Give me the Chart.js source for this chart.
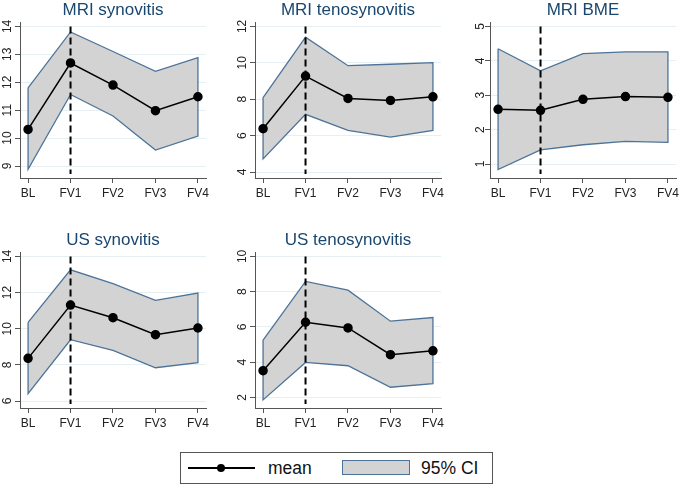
<!DOCTYPE html>
<html>
<head>
<meta charset="utf-8">
<script src="https://cdn.jsdelivr.net/npm/chart.js@4.4.1/dist/chart.umd.min.js"></script>
<style>
  html,body{margin:0;padding:0;background:#fff;width:685px;height:486px;overflow:hidden;
    font-family:"Liberation Sans",Arial,sans-serif;}
  canvas{position:absolute;}
  #legend{position:absolute;left:180px;top:452px;width:311px;height:30px;border:1px solid #555;}
  #legend span{position:absolute;display:block;}
  #legend .ln{left:7px;top:14px;width:67px;height:1.5px;background:#000;}
  #legend .dot{left:36px;top:11px;width:8px;height:8px;border-radius:50%;background:#000;}
  #legend .tx{top:5px;font-size:17.5px;line-height:20px;color:#111;}
  #legend .box{left:161px;top:7px;width:68px;height:15px;box-sizing:border-box;
    background:#d3d3d3;border:1.5px solid #4d7399;}
</style>
</head>
<body>
<canvas id="c0" width="215" height="206" style="left:0;top:0"></canvas>
<canvas id="c1" width="215" height="206" style="left:235px;top:0"></canvas>
<canvas id="c2" width="215" height="206" style="left:470px;top:0"></canvas>
<canvas id="c3" width="215" height="206" style="left:0;top:230px"></canvas>
<canvas id="c4" width="215" height="206" style="left:235px;top:230px"></canvas>
<div id="legend">
  <span class="ln"></span><span class="dot"></span>
  <span class="tx" style="left:87px">mean</span>
  <span class="box"></span>
  <span class="tx" style="left:240px">95% CI</span>
</div>
<script>
// 資料
const visits = ['BL','FV1','FV2','FV3','FV4'];
const refVisit = 'FV1';

const mriSynMean = [10.31, 12.69, 11.90, 10.98, 11.48];
const mriSynLo   = [ 8.88, 11.56, 10.79,  9.57, 10.07];
const mriSynHi   = [11.80, 13.80, 13.10, 12.39, 12.88];
const mriSynTicks = [9,10,11,12,13,14];

const mriTenMean = [6.38, 9.27, 8.04, 7.93, 8.13];
const mriTenLo   = [4.72, 7.17, 6.29, 5.92, 6.29];
const mriTenHi   = [8.09, 11.41, 9.84, 9.92, 10.01];
const mriTenTicks = [4,6,8,10,12];

const mriBmeMean = [2.59, 2.56, 2.88, 2.96, 2.94];
const mriBmeLo   = [0.84, 1.41, 1.56, 1.66, 1.63];
const mriBmeHi   = [4.35, 3.71, 4.21, 4.26, 4.26];
const mriBmeTicks = [1,2,3,4,5];

const usSynMean = [8.36, 11.31, 10.61, 9.67, 10.04];
const usSynLo   = [6.41, 9.39, 8.80, 7.84, 8.12];
const usSynHi   = [10.35, 13.26, 12.49, 11.57, 11.97];
const usSynTicks = [6,8,10,12,14];

const usTenMean = [3.51, 6.26, 5.94, 4.42, 4.64];
const usTenLo   = [1.85, 3.98, 3.79, 2.57, 2.77];
const usTenHi   = [5.25, 8.58, 8.08, 6.32, 6.53];
const usTenTicks = [2,4,6,8,10];

const panels = [
  {id:'c0', title:'MRI synovitis',     mean:mriSynMean, lo:mriSynLo, hi:mriSynHi, ticks:mriSynTicks, yMin:8.571, yMax:14.143},
  {id:'c1', title:'MRI tenosynovitis', mean:mriTenMean, lo:mriTenLo, hi:mriTenHi, ticks:mriTenTicks, yMin:3.671, yMax:12.219},
  {id:'c2', title:'MRI BME',           mean:mriBmeMean, lo:mriBmeLo, hi:mriBmeHi, ticks:mriBmeTicks, yMin:0.594, yMax:5.116},
  {id:'c3', title:'US synovitis',      mean:usSynMean,  lo:usSynLo,  hi:usSynHi,  ticks:usSynTicks,  yMin:5.614, yMax:14.221},
  {id:'c4', title:'US tenosynovitis',  mean:usTenMean,  lo:usTenLo,  hi:usTenHi,  ticks:usTenTicks,  yMin:1.392, yMax:10.226},
];

const FONT = '"Liberation Sans", Arial, sans-serif';
const AXIS = '#555';

// 參考線（FV1 虛線），畫在色帶之後、平均線之前
const refLine = {
  id:'refLine',
  beforeDatasetDraw(chart, args){
    if(args.index!==0) return;
    const x = chart.scales.x.getPixelForValue(visits.indexOf(refVisit));
    const {top,bottom} = chart.chartArea;
    const c = chart.ctx;
    c.save();
    c.setLineDash([7,4]); c.lineWidth = 2; c.strokeStyle = '#000';
    c.beginPath(); c.moveTo(x, top+4); c.lineTo(x, bottom-4); c.stroke();
    c.restore();
  }
};

const pts = arr => arr.map((v,i)=>({x:i, y:v}));

panels.forEach(p=>{
  const band = [...pts(p.hi), ...pts(p.lo).reverse()];
  band.push(band[0]);

  new Chart(document.getElementById(p.id), {
    type:'line',
    data:{datasets:[
      {data:pts(p.mean), borderColor:'#000', borderWidth:1.5, pointRadius:4,
       pointBackgroundColor:'#000', pointBorderColor:'#000', fill:false},
      {data:band, borderColor:'#4d7399', borderWidth:1.3, pointRadius:0,
       backgroundColor:'#d3d3d3', fill:'shape'},
    ]},
    options:{
      responsive:false, animation:false, events:[],
      layout:{padding:{left:0, right:9, top:0, bottom:0}},
      plugins:{
        legend:{display:false}, tooltip:{enabled:false},
        filler:{drawTime:'beforeDatasetsDraw'},
        title:{display:true, text:p.title, fullSize:false, color:'#1a476f',
          font:{family:FONT, size:17, weight:'normal'}, padding:{top:0, bottom:2}}
      },
      scales:{
        x:{type:'linear', min:-0.19, max:4.19,
          afterBuildTicks:s=>{ s.ticks = visits.map((_,i)=>({value:i})); },
          afterFit:s=>{ s.height = 28; },
          ticks:{callback:v=>visits[v], color:'#222', font:{family:FONT, size:12},
            padding:3, autoSkip:false, maxRotation:0},
          grid:{drawOnChartArea:false, tickLength:5, tickColor:AXIS, color:AXIS},
          border:{color:AXIS, width:1}},
        y:{min:p.yMin, max:p.yMax,
          afterBuildTicks:s=>{ s.ticks = p.ticks.map(v=>({value:v})); },
          afterFit:s=>{ s.width = 20; },
          ticks:{minRotation:90, maxRotation:90, crossAlign:'center', padding:1,
            color:'#222', font:{family:FONT, size:12}},
          grid:{color:'#e6eff1', tickLength:5, tickColor:AXIS},
          border:{color:AXIS, width:1}}
      }
    },
    plugins:[refLine]
  });
});
</script>
</body>
</html>
